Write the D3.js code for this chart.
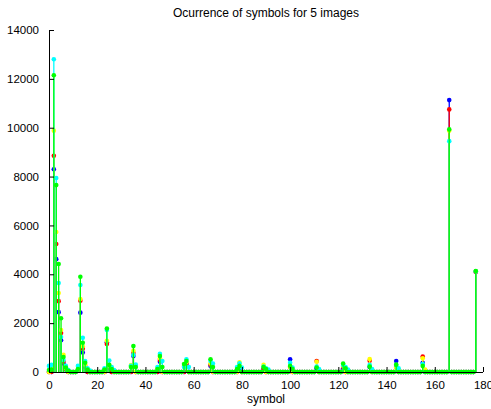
<!DOCTYPE html>
<html>
<head>
<meta charset="utf-8">
<script src="https://cdn.jsdelivr.net/npm/d3@7"></script>
<style>
html,body{margin:0;padding:0;background:#fff;}
svg{display:block;font-family:"Liberation Sans",Arial,sans-serif;}
</style>
</head>
<body>
<svg id="chart" width="491" height="409"></svg>
<script>
// symbols 0..177
const symbols = d3.range(0, 178);
const seriesNames = ["image 1", "image 2", "image 3", "image 4", "image 5"];
const seriesColors = ["#0000ff", "#ff0000", "#ffff00", "#00ffff", "#00ff00"];
const xTicks = [0, 20, 40, 60, 80, 100, 120, 140, 160, 180];
const yTicks = [0, 2000, 4000, 6000, 8000, 10000, 12000, 14000];
const title = "Ocurrence of symbols for 5 images";
const xLabel = "symbol";

// values per symbol (index = symbol)
const blue = [
0,0,8300,4620,2450,1300,350,100,0,0, 0,0,60,2430,800,200,0,0,0,0,
0,0,0,0,1220,150,0,0,0,0, 0,0,0,0,0,650,0,0,0,0,
0,0,0,0,0,0,420,0,0,0, 0,0,0,0,0,0,0,350,0,0,
0,0,0,0,0,0,0,250,0,0, 0,0,0,0,0,0,0,0,0,150,
0,0,0,0,0,0,0,0,0,100, 0,0,0,0,0,0,0,0,0,0,
520,0,0,0,0,0,0,0,0,0, 0,150,0,0,0,0,0,0,0,0,
0,0,150,0,0,0,0,0,0,0, 0,0,0,200,0,0,0,0,0,0,
0,0,0,0,450,0,0,0,0,0, 0,0,0,0,0,380,0,0,0,0,
0,0,0,0,0,0,11130,0,0,0, 0,0,0,0,0,0,0,4100];
const red = [
0,0,8850,5240,2900,1600,420,120,0,0, 0,0,80,2920,950,250,0,0,0,0,
0,0,0,0,1150,200,0,0,0,0, 0,0,0,0,0,780,0,0,0,0,
0,0,0,0,0,0,490,0,0,0, 0,0,0,0,0,0,0,290,0,0,
0,0,0,0,0,0,0,300,0,0, 0,0,0,0,0,0,0,0,0,200,
0,0,0,0,0,0,0,0,0,150, 0,0,0,0,0,0,0,0,0,0,
200,0,0,0,0,0,0,0,0,0, 0,450,0,0,0,0,0,0,0,0,
0,0,200,0,0,0,0,0,0,0, 0,0,0,460,0,0,0,0,0,0,
0,0,0,0,200,0,0,0,0,0, 0,0,0,0,0,630,0,0,0,0,
0,0,0,0,0,0,10750,0,0,0, 0,0,0,0,0,0,0,4100];
const yellow = [
0,200,9880,5730,3230,1720,700,150,0,0, 0,0,100,2990,1050,300,120,0,0,0,
0,0,0,0,1280,250,150,0,0,0, 0,0,0,0,280,870,0,0,0,0,
0,0,0,0,0,150,560,0,0,0, 0,0,0,0,0,0,250,400,0,0,
0,0,0,0,0,0,0,350,0,0, 0,0,0,0,0,0,0,0,0,400,
0,0,0,0,0,0,0,0,0,290, 0,0,0,0,0,0,0,0,0,0,
200,0,0,0,0,0,0,0,0,0, 0,420,0,0,0,0,0,0,0,0,
0,0,250,0,0,0,0,0,0,0, 0,0,0,530,0,0,0,0,0,0,
0,0,0,0,170,100,0,0,0,0, 0,0,0,0,0,560,100,0,0,0,
0,0,0,0,0,0,9880,0,0,0, 0,0,0,0,0,0,0,4120];
const cyan = [
250,290,12800,7940,3640,1430,490,250,80,0, 0,0,250,3560,1400,450,150,60,0,0,
0,0,0,150,1720,470,200,80,0,0, 0,0,0,0,250,700,300,0,0,0,
0,0,0,0,0,200,740,450,0,0, 0,0,0,0,0,0,200,520,200,0,
0,0,0,0,0,0,0,450,350,0, 0,0,0,0,0,0,0,0,200,360,
180,0,0,0,0,0,0,0,0,220, 150,100,0,0,0,0,0,0,0,0,
380,180,0,0,0,0,0,0,0,0, 0,220,120,0,0,0,0,0,0,0,
0,0,290,200,100,0,0,0,0,0, 0,0,0,290,120,0,0,0,0,0,
0,0,0,0,290,150,0,0,0,0, 0,0,0,0,0,330,0,0,0,0,
0,0,0,0,0,0,9450,0,0,0, 0,0,0,0,0,0,0,4120];
const green = [
80,100,12150,7650,4420,2200,610,180,50,0, 0,0,120,3900,1200,380,100,0,0,0,
0,0,0,100,1780,290,120,0,0,0, 0,0,0,0,200,1060,200,0,0,0,
0,0,0,0,0,120,650,200,0,0, 0,0,0,0,0,0,330,450,0,0,
0,0,0,0,0,0,0,520,200,0, 0,0,0,0,0,0,0,0,120,250,
0,0,0,0,0,0,0,0,0,200, 120,0,0,0,0,0,0,0,0,0,
250,120,0,0,0,0,0,0,0,0, 0,180,0,0,0,0,0,0,0,0,
0,0,350,150,0,0,0,0,0,0, 0,0,0,220,0,0,0,0,0,0,
0,0,0,0,300,0,0,0,0,0, 0,0,0,0,0,250,0,0,0,0,
0,0,0,0,0,0,9930,0,0,0, 0,0,0,0,0,0,0,4130];

const seriesValues = [blue, red, yellow, cyan, green];

const svg = d3.select("#chart");
const m = {left: 49, right: 483, top: 30, bottom: 372};

const x = d3.scaleLinear().domain([0, 180]).range([m.left, m.right]);
const y = d3.scaleLinear().domain([0, 14000]).range([m.bottom, m.top]);

// series
seriesValues.forEach((vals, si) => {
  const g = svg.append("g").attr("class", "series");
  const color = seriesColors[si];
  g.selectAll("line").data(symbols).join("line")
    .attr("x1", d => x(d)).attr("x2", d => x(d))
    .attr("y1", y(0)).attr("y2", d => y(vals[d]))
    .attr("stroke", color).attr("stroke-width", 1.3);
  g.selectAll("circle").data(symbols).join("circle")
    .attr("cx", d => x(d)).attr("cy", d => y(vals[d]))
    .attr("r", 2.3).attr("fill", color);
});

// axes
const fontSize = 11.5;
const yAxis = d3.axisLeft(y).tickValues(yTicks).tickSize(-5).tickPadding(10).tickFormat(d3.format("d"));
const xAxis = d3.axisBottom(x).tickValues(xTicks).tickSize(-5).tickPadding(9).tickFormat(d3.format("d"));

const gy = svg.append("g").attr("transform", `translate(${m.left},0)`).call(yAxis);
const gx = svg.append("g").attr("transform", `translate(0,${m.bottom})`).call(xAxis);
[gx, gy].forEach(g => {
  g.select(".domain").attr("stroke", "#000").attr("stroke-width", 1);
  g.selectAll(".tick line").attr("stroke", "#000");
  g.selectAll("text").attr("font-size", fontSize).attr("fill", "#000")
    .attr("font-family", "Liberation Sans, Arial, sans-serif");
});
gx.select(".domain").attr("d", `M${m.left},0.5H${m.right}`);
gy.select(".domain").attr("d", `M0.5,${m.bottom}V${m.top}`);

// title and label
svg.append("text").attr("x", (m.left + m.right) / 2).attr("y", 17)
  .attr("text-anchor", "middle").attr("font-size", 12).text(title);
svg.append("text").attr("x", (m.left + m.right) / 2).attr("y", 403)
  .attr("text-anchor", "middle").attr("font-size", 12).text(xLabel);
</script>
</body>
</html>
